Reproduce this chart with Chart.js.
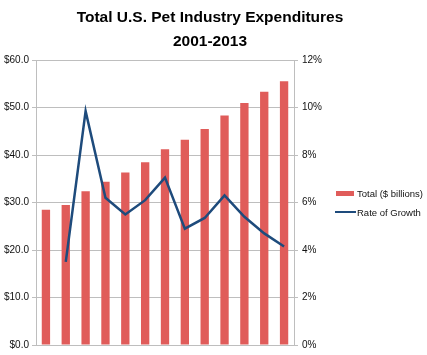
<!DOCTYPE html>
<html>
<head>
<meta charset="utf-8">
<script src="https://cdn.jsdelivr.net/npm/chart.js@4.4.1/dist/chart.umd.min.js"></script>
<style>
html,body{margin:0;padding:0;background:#fff;}
#wrap{width:427px;height:355px;position:relative;}
</style>
</head>
<body>
<div id="wrap"><canvas id="c" width="427" height="355"></canvas></div>
<script>
const years = ['2001','2002','2003','2004','2005','2006','2007','2008','2009','2010','2011','2012','2013'];
const totalBillions = [28.5, 29.5, 32.4, 34.4, 36.3, 38.5, 41.2, 43.2, 45.5, 48.35, 50.96, 53.33, 55.53];
const growthPct = [null, 3.5, 9.85, 6.2, 5.5, 6.1, 7.05, 4.9, 5.35, 6.3, 5.4, 4.7, 4.15];
const leftTicks = [0, 10, 20, 30, 40, 50, 60];
const rightTicks = [0, 2, 4, 6, 8, 10, 12];
const titleLines = ['Total U.S. Pet Industry Expenditures', '2001-2013'];

const BAR_COLOR = '#E05C5A';
const LINE_COLOR = '#1E4B7C';
const GRID = '#BEBEBE';
const FONT = "'Liberation Sans', Arial, sans-serif";

const legendPlugin = {
  id: 'customLegend',
  afterDraw(chart) {
    const ctx = chart.ctx;
    const ds = chart.data.datasets;
    ctx.save();
    ctx.font = '9.5px ' + FONT;
    ctx.textBaseline = 'middle';
    ctx.textAlign = 'left';
    ctx.fillStyle = ds[1].backgroundColor;
    ctx.fillRect(336, 191, 18, 5);
    ctx.fillStyle = '#111';
    ctx.fillText(ds[1].label, 357, 194);
    ctx.strokeStyle = ds[0].borderColor;
    ctx.lineWidth = 2;
    ctx.beginPath();
    ctx.moveTo(335, 212);
    ctx.lineTo(356, 212);
    ctx.stroke();
    ctx.fillText(ds[0].label, 357, 213);
    ctx.restore();
  }
};

new Chart(document.getElementById('c'), {
  data: {
    labels: years,
    datasets: [
      {
        type: 'line',
        label: 'Rate of Growth',
        data: growthPct,
        yAxisID: 'y1',
        borderColor: LINE_COLOR,
        backgroundColor: LINE_COLOR,
        borderWidth: 2.5,
        pointRadius: 0,
        tension: 0,
        order: 0
      },
      {
        type: 'bar',
        label: 'Total ($ billions)',
        data: totalBillions,
        yAxisID: 'y',
        backgroundColor: BAR_COLOR,
        borderWidth: 0,
        categoryPercentage: 1.0,
        barPercentage: 0.42,
        order: 1
      }
    ]
  },
  options: {
    responsive: false,
    animation: false,
    devicePixelRatio: 1,
    layout: { padding: { left: 0, right: 7, top: 0, bottom: 8 } },
    plugins: {
      legend: { display: false },
      tooltip: { enabled: false },
      title: {
        display: true,
        text: titleLines,
        color: '#000',
        font: { family: FONT, size: 15.5, weight: 'bold', lineHeight: 1.55 },
        padding: { top: 6, bottom: 6 }
      }
    },
    scales: {
      x: {
        display: false,
        offset: true
      },
      y: {
        position: 'left',
        min: 0,
        max: 60,
        afterBuildTicks(scale) { scale.ticks = leftTicks.map(v => ({ value: v })); },
        afterFit(scale) { scale.width = 36; },
        ticks: {
          color: '#111',
          font: { family: FONT, size: 10 },
          padding: 3,
          callback: v => '$' + Number(v).toFixed(1)
        },
        grid: { color: GRID, lineWidth: 1, tickLength: 4, drawTicks: true },
        border: { display: true, color: GRID, width: 1 }
      },
      y1: {
        position: 'right',
        min: 0,
        max: 12,
        afterBuildTicks(scale) { scale.ticks = rightTicks.map(v => ({ value: v })); },
        afterFit(scale) { scale.width = 126; },
        ticks: {
          color: '#111',
          font: { family: FONT, size: 10 },
          padding: 4,
          callback: v => v + '%'
        },
        grid: { color: GRID, drawOnChartArea: false, tickLength: 4, drawTicks: true },
        border: { display: true, color: GRID, width: 1 }
      }
    }
  },
  plugins: [legendPlugin]
});
</script>
</body>
</html>
